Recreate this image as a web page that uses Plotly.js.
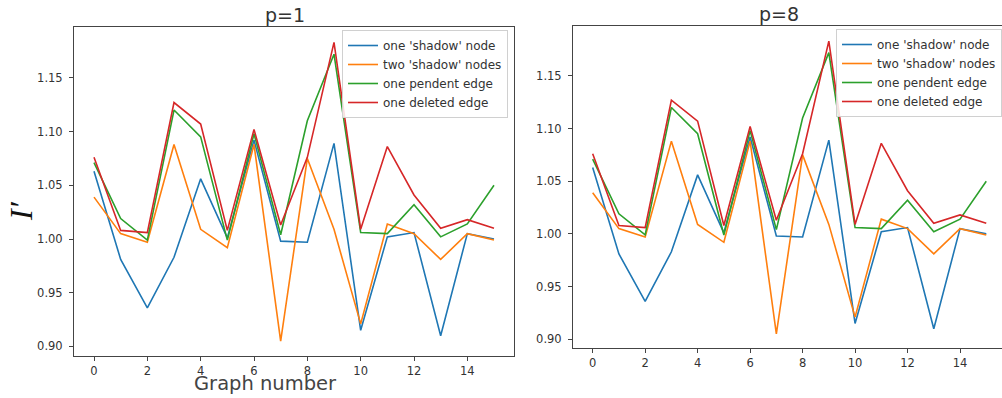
<!DOCTYPE html>
<html>
<head>
<meta charset="utf-8">
<script src="https://cdn.plot.ly/plotly-3.0.1.min.js"></script>
<style>html,body{margin:0;padding:0;background:#fff;}#chart{width:1002px;height:398px;}</style>
</head>
<body>
<div id="chart"></div>
<script>
const graphNumbers = [0,1,2,3,4,5,6,7,8,9,10,11,12,13,14,15];
const seriesNames = ["one 'shadow' node", "two 'shadow' nodes", "one pendent edge", "one deleted edge"];
const oneShadowNode  = [1.063, 0.981, 0.936, 0.983, 1.056, 1.001, 1.092, 0.998, 0.997, 1.089, 0.915, 1.002, 1.006, 0.910, 1.005, 1.000];
const twoShadowNodes = [1.039, 1.005, 0.997, 1.088, 1.009, 0.992, 1.088, 0.905, 1.075, 1.009, 0.921, 1.014, 1.005, 0.981, 1.005, 0.999];
const onePendentEdge = [1.071, 1.019, 0.999, 1.120, 1.095, 0.999, 1.098, 1.004, 1.110, 1.172, 1.006, 1.005, 1.032, 1.002, 1.014, 1.050];
const oneDeletedEdge = [1.076, 1.008, 1.006, 1.127, 1.107, 1.008, 1.102, 1.013, 1.076, 1.183, 1.009, 1.086, 1.041, 1.010, 1.018, 1.010];
const panelTitles = ["p=1", "p=8"];
const xTicks = [0,2,4,6,8,10,12,14];
const yTicks = [0.90,0.95,1.00,1.05,1.10,1.15];
const yTickText = ["0.90","0.95","1.00","1.05","1.10","1.15"];

const colors = ['#1f77b4','#ff7f0e','#2ca02c','#d62728'];
const allSeries = [oneShadowNode, twoShadowNodes, onePendentEdge, oneDeletedEdge];

const W = 1002, H = 398;
const traces = [];
[['x','y','legend'],['x2','y2','legend2']].forEach(([xa, ya, lg]) => {
  allSeries.forEach((vals, i) => {
    traces.push({
      x: graphNumbers, y: vals, type: 'scatter', mode: 'lines',
      name: seriesNames[i], xaxis: xa, yaxis: ya, legend: lg,
      line: {color: colors[i], width: 1.6}
    });
  });
});

function axisBase() {
  return {
    showline: true, mirror: true, linecolor: '#444', linewidth: 1,
    ticks: 'outside', ticklen: 4, tickcolor: '#444', tickwidth: 1,
    showgrid: false, zeroline: false,
    tickfont: {family: 'DejaVu Sans', size: 11.5, color: '#333'}
  };
}

const legendBase = {xanchor: 'left', yanchor: 'top', bgcolor: 'rgba(255,255,255,0.85)', bordercolor: '#d0d0d0', borderwidth: 1, font: {family: 'DejaVu Sans', size: 12, color: '#333'}, itemwidth: 30, tracegroupgap: 0};

const layout = {
  width: W, height: H,
  margin: {l: 0, r: 0, t: 0, b: 0},
  paper_bgcolor: '#fff', plot_bgcolor: '#fff',
  font: {family: 'DejaVu Sans', color: '#333'},
  xaxis: Object.assign(axisBase(), {domain: [74/W, 514/W], range: [-0.75, 15.75], tickvals: xTicks, anchor: 'y'}),
  yaxis: Object.assign(axisBase(), {domain: [(H-355.7)/H, (H-27)/H], range: [0.8914, 1.1973], tickvals: yTicks, ticktext: yTickText, anchor: 'x', ticklabelstandoff: 4}),
  xaxis2: Object.assign(axisBase(), {domain: [573/W, 1], range: [-0.75, 15.6], tickvals: xTicks, anchor: 'y2'}),
  yaxis2: Object.assign(axisBase(), {domain: [(H-348.3)/H, (H-26)/H], range: [0.8914, 1.1973], tickvals: yTicks, ticktext: yTickText, anchor: 'x2', ticklabelstandoff: 4}),
  legend: Object.assign({x: 342/W, y: (H-30)/H}, legendBase),
  legend2: Object.assign({x: 836/W, y: (H-29)/H}, legendBase),
  showlegend: true,
  annotations: [
    {text: panelTitles[0], xref: 'paper', yref: 'paper', x: 285/W, y: (H-15)/H, showarrow: false, xanchor: 'center', yanchor: 'middle', font: {family: 'DejaVu Sans', size: 19, color: '#333'}},
    {text: panelTitles[1], xref: 'paper', yref: 'paper', x: 779/W, y: (H-14)/H, showarrow: false, xanchor: 'center', yanchor: 'middle', font: {family: 'DejaVu Sans', size: 19, color: '#333'}},
    {text: 'Graph number', xref: 'paper', yref: 'paper', x: 265/W, y: (H-383)/H, showarrow: false, xanchor: 'center', yanchor: 'middle', font: {family: 'DejaVu Sans', size: 19.5, color: '#444'}},
    {text: '<i>I′</i>', xref: 'paper', yref: 'paper', x: 21/W, y: (H-211)/H, showarrow: false, xanchor: 'center', yanchor: 'middle', textangle: -90, font: {family: 'Liberation Serif', size: 32, color: '#111'}}
  ]
};

Plotly.newPlot('chart', traces, layout, {staticPlot: true, displayModeBar: false});
</script>
</body>
</html>
